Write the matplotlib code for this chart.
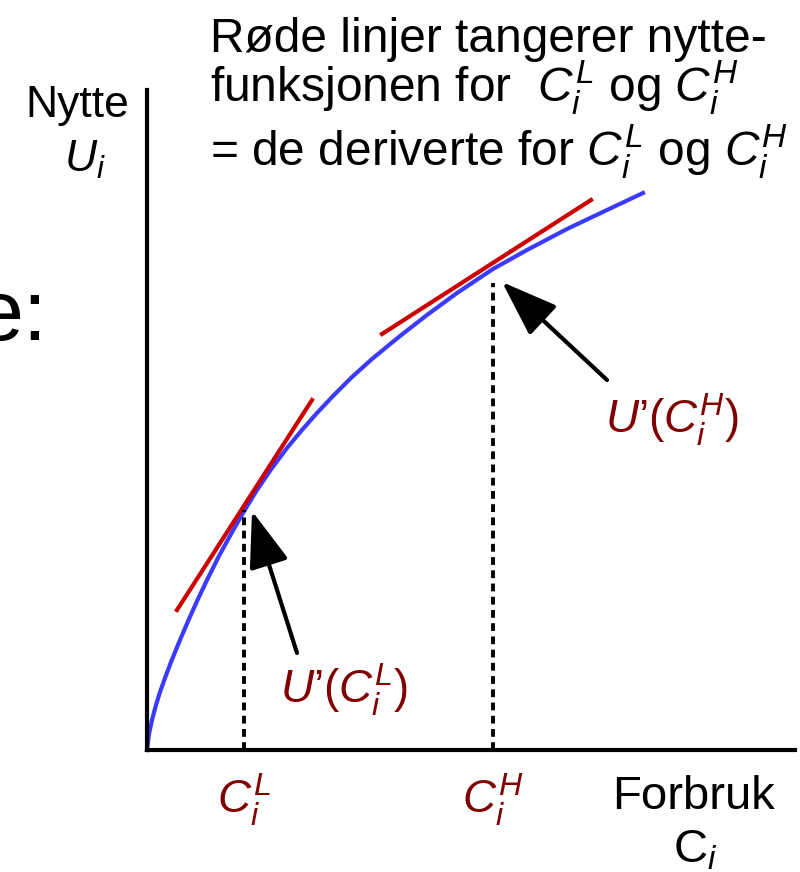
import matplotlib
matplotlib.use('Agg')
import matplotlib.pyplot as plt
from matplotlib.patches import FancyArrowPatch

plt.rcParams['font.family'] = ['Liberation Sans', 'DejaVu Sans']
plt.rcParams['mathtext.fontset'] = 'custom'
plt.rcParams['mathtext.rm'] = 'Liberation Sans'
plt.rcParams['mathtext.it'] = 'Liberation Sans:italic'
plt.rcParams['mathtext.bf'] = 'Liberation Sans:bold'

# utility curve U(C)
cons = [0, 2, 5, 9, 13, 18, 24, 33, 42, 51, 60, 72, 84, 96, 110, 125, 140, 155,
        170, 186, 205, 225, 253, 280, 310, 346, 380, 420, 460, 496]
utility = [0, 16, 30, 45, 58, 72, 88, 110, 131, 151, 170, 194, 216, 237, 260, 282,
           302, 320, 337, 354, 373, 391, 414, 435, 457, 481, 500, 521, 540, 557]

# tangent lines at C_L and C_H
tan_low_x = [30, 165]
tan_low_y = [140, 350]
tan_high_x = [235, 444]
tan_high_y = [416, 550]

# consumption levels and the utility there
c_points = [97, 346]
u_points = [240, 467]
c_labels = [r'$C_i^L$', r'$C_i^H$']

# arrows: tail -> tip
arrow_tails = [(150, 97), (460, 370)]
arrow_tips = [(105, 239), (355, 468)]
arrow_labels = [r'$U$’($C_i^L$)', r'$U$’($C_i^H$)']
arrow_label_pos = [(197, 60), (525, 330)]

blue = '#3b3bff'
red = '#cc0000'
darkred = '#800000'

fig = plt.figure(figsize=(8, 8.72), dpi=100)
ax = fig.add_axes([147 / 800, 122 / 872, 648 / 800, 660 / 872])
ax.set_xlim(0, 648)
ax.set_ylim(0, 660)
ax.spines['right'].set_visible(False)
ax.spines['top'].set_visible(False)
ax.spines['left'].set_linewidth(3)
ax.spines['bottom'].set_linewidth(3)
ax.set_xticks([])
ax.set_yticks([])

ax.plot(cons, utility, color=blue, lw=3, solid_joinstyle='round', clip_on=False)
ax.plot(tan_low_x, tan_low_y, color=red, lw=3, clip_on=False)
ax.plot(tan_high_x, tan_high_y, color=red, lw=3, clip_on=False)

for c, u in zip(c_points, u_points):
    ax.plot([c, c], [0, u], color='black', lw=2.8, dashes=(2.0, 1.4))

for tail, tip in zip(arrow_tails, arrow_tips):
    ax.add_patch(FancyArrowPatch(tail, tip, arrowstyle='-|>,head_length=3.5,head_width=1.25',
                                 mutation_scale=10, lw=3, color='black',
                                 shrinkA=0, shrinkB=0))

fs = 33
for lab, (x, y) in zip(arrow_labels, arrow_label_pos):
    ax.text(x, y, lab, color=darkred, fontsize=fs, ha='center', va='center')

for c, lab in zip(c_points, c_labels):
    ax.text(c, -50, lab, color=darkred, fontsize=fs, ha='center', va='center')

ax.text(547, -47, 'Forbruk', fontsize=34, ha='center', va='center')
ax.text(548, -100, r'C$_i$', fontsize=34, ha='center', va='center')

ax.text(-70, 633, 'Nytte', fontsize=32, ha='center', va='baseline')
ax.text(-62, 578, r'$U_i$', fontsize=32, ha='center', va='baseline')

top_fs = 34.5
ax.text(63, 698, 'Røde linjer tangerer nytte-', fontsize=top_fs, ha='left', va='baseline')
ax.text(63, 648, r'funksjonen for  $C_i^L$ og $C_i^H$', fontsize=top_fs, ha='left', va='baseline')
ax.text(63, 584, r'= de deriverte for $C_i^L$ og $C_i^H$', fontsize=top_fs, ha='left', va='baseline')

ax.text(-100, 410, 'e:', fontsize=62, ha='right', va='baseline')

fig.savefig('out.png', dpi=100)
